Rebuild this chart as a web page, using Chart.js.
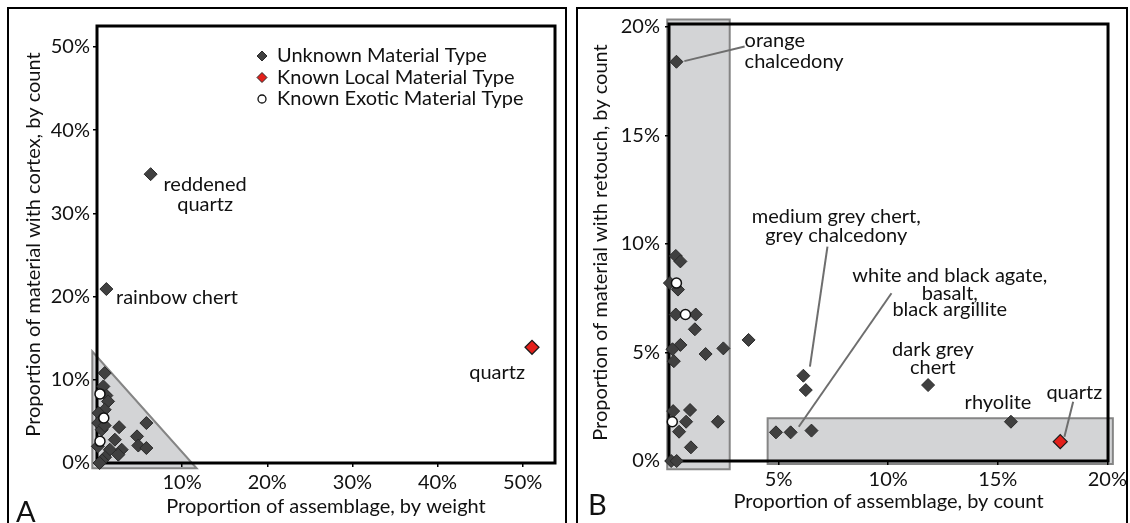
<!DOCTYPE html>
<html>
<head>
<meta charset="utf-8">
<script src="https://cdn.jsdelivr.net/npm/chart.js@4.4.0/dist/chart.umd.min.js"></script>
<style>
  body { margin: 0; background: #fff; width: 1130px; height: 523px; overflow: hidden; position: relative; font-family: Lato, sans-serif; }
  .frame { position: absolute; top: 7px; height: 540px; border: 2px solid #000; border-bottom: none; box-sizing: border-box; }
  #frameA { left: 7px; width: 560px; }
  #frameB { left: 576px; width: 552px; }
  .wrap { position: absolute; top: 0; height: 523px; }
  #wrapA { left: 0; width: 566px; }
  #wrapB { left: 570px; width: 560px; }
  .tag { position: absolute; font-size: 29px; line-height: 29px; color: #111; }
</style>
</head>
<body>
<div class="frame" id="frameA"></div>
<div class="frame" id="frameB"></div>
<div class="wrap" id="wrapA"><canvas id="chartA" width="566" height="523"></canvas></div>
<div class="wrap" id="wrapB"><canvas id="chartB" width="560" height="523"></canvas></div>
<div class="tag" style="left:16px;top:496px">A</div>
<div class="tag" style="left:588px;top:489px">B</div>
<script>
// panel A : weight vs cortex
const unknownA = [
  [6.3, 34.7], [1.1, 20.9],
  [0.9, 10.8], [0.75, 9.2], [1.1, 8.1], [1.3, 7.4], [0.9, 6.4], [0.2, 6.0],
  [0.15, 4.8], [0.55, 4.0], [0.9, 4.5], [2.6, 4.3], [5.8, 4.8], [4.7, 3.2],
  [4.85, 2.1], [5.8, 1.8], [2.1, 2.8], [1.5, 1.6], [2.9, 1.6], [2.5, 1.0],
  [0.95, 0.7], [0.1, 2.0], [0.6, 0.3], [0.3, 0]
];
const localA = [[51.1, 13.9]];
const exoticA = [[0.35, 8.3], [0.8, 5.4], [0.35, 2.6]];
const xTicksA = [10, 20, 30, 40, 50];
const xLabelsA = ['10%', '20%', '30%', '40%', '50%'];
const yTicksA = [0, 10, 20, 30, 40, 50];
const yLabelsA = ['0%', '10%', '20%', '30%', '40%', '50%'];
const notesA = [
  ['reddened', 12.7, 33.4, 'center'], ['quartz', 12.7, 31.1, 'center'],
  ['rainbow chert', 9.4, 19.85, 'center'],
  ['quartz', 47.0, 10.85, 'center']
];
const zoneA = [[[-0.55, 13.4], [11.7, -0.64], [-0.55, -0.64]]];
const legendNames = ['Unknown Material Type', 'Known Local Material Type', 'Known Exotic Material Type'];

// panel B : count vs retouch
const unknownB = [
  [0.34, 18.4],
  [0.31, 9.45], [0.52, 9.2], [0.04, 8.2], [0.41, 7.9],
  [0.31, 6.75], [1.22, 6.75], [1.18, 6.07],
  [0.52, 5.35], [0.16, 5.15], [0.22, 4.6],
  [1.67, 4.93], [2.48, 5.19], [3.63, 5.58],
  [0.19, 2.3], [0.96, 2.35], [0.78, 1.81], [2.23, 1.81], [0.46, 1.35], [1.0, 0.63],
  [0.1, 0], [0.35, 0],
  [6.13, 3.93], [6.24, 3.27],
  [11.82, 3.5],
  [4.88, 1.32], [5.55, 1.32], [6.5, 1.4],
  [15.6, 1.81]
];
const localB = [[17.85, 0.89]];
const exoticB = [[0.34, 8.2], [0.75, 6.75], [0.15, 1.81]];
const xTicksB = [5, 10, 15, 20];
const xLabelsB = ['5%', '10%', '15%', '20%'];
const yTicksB = [0, 5, 10, 15, 20];
const yLabelsB = ['0%', '5%', '10%', '15%', '20%'];
const notesB = [
  ['orange', 3.45, 19.37, 'left'], ['chalcedony', 3.45, 18.4, 'left'],
  ['medium grey chert,', 7.63, 11.26, 'center'], ['grey chalcedony', 7.63, 10.41, 'center'],
  ['white and black agate,', 12.81, 8.57, 'center'], ['basalt,', 12.81, 7.73, 'center'], ['black argillite', 12.81, 6.96, 'center'],
  ['dark grey', 12.04, 5.12, 'center'], ['chert', 12.04, 4.3, 'center'],
  ['rhyolite', 15.01, 2.7, 'center'],
  ['quartz', 18.49, 3.17, 'center']
];
const leadersB = [
  [0.7, 18.43, 3.45, 19.1],
  [7.23, 9.88, 6.43, 4.35],
  [10.15, 7.73, 5.92, 1.58],
  [18.44, 2.73, 18.04, 1.12]
];
const zoneB = [[-0.08, 20.35, 2.77, -0.38], [4.5, 1.97, 20.25, -0.14]];

const FONT = 'Lato';
const TXT = '#111';

function toPts(arr) {
  return arr.map(p => ({x: p[0], y: p[1]}));
}

function diamond(ctx, x, y, r, fill, stroke) {
  ctx.beginPath();
  ctx.moveTo(x, y - r); ctx.lineTo(x + r, y); ctx.lineTo(x, y + r); ctx.lineTo(x - r, y);
  ctx.closePath();
  ctx.fillStyle = fill; ctx.fill();
  ctx.lineWidth = 1; ctx.strokeStyle = stroke; ctx.stroke();
}

function overlay(p) {
  return {
    id: 'overlay',
    beforeDraw(chart) {
      const ctx = chart.ctx, xs = chart.scales.x, ys = chart.scales.y;
      ctx.save();
      p.zones.forEach(poly => {
        ctx.beginPath();
        poly.forEach((pt, i) => {
          const px = xs.getPixelForValue(pt[0]), py = ys.getPixelForValue(pt[1]);
          if (i) ctx.lineTo(px, py); else ctx.moveTo(px, py);
        });
        ctx.closePath();
        ctx.fillStyle = '#d3d4d6';
        ctx.fill();
        ctx.lineWidth = 2;
        ctx.strokeStyle = '#858585';
        ctx.stroke();
      });
      ctx.restore();
    },
    beforeDatasetsDraw(chart) {
      const ctx = chart.ctx, a = chart.chartArea, xs = chart.scales.x, ys = chart.scales.y;
      ctx.save();
      ctx.lineWidth = 3;
      ctx.strokeStyle = '#000';
      ctx.strokeRect(a.left, a.top, a.right - a.left, a.bottom - a.top);
      ctx.lineWidth = 2;
      ctx.strokeStyle = '#6e6e6e';
      (p.leaders || []).forEach(l => {
        ctx.beginPath();
        ctx.moveTo(xs.getPixelForValue(l[0]), ys.getPixelForValue(l[1]));
        ctx.lineTo(xs.getPixelForValue(l[2]), ys.getPixelForValue(l[3]));
        ctx.stroke();
      });
      ctx.restore();
    },
    afterDatasetsDraw(chart) {
      const ctx = chart.ctx, a = chart.chartArea, xs = chart.scales.x, ys = chart.scales.y;
      ctx.save();
      ctx.font = '20px ' + FONT;
      ctx.fillStyle = TXT;
      ctx.textBaseline = 'middle';
      p.notes.forEach(n => {
        ctx.textAlign = n[3];
        ctx.fillText(n[0], xs.getPixelForValue(n[1]), ys.getPixelForValue(n[2]));
      });
      if (p.legend) {
        const lx = a.left + 165, ly = a.top + 30;
        legendNames.forEach((name, i) => {
          const y = ly + i * 21.5;
          if (i === 0) diamond(ctx, lx, y, 5, '#404040', '#2a2a2a');
          else if (i === 1) diamond(ctx, lx, y, 5, '#e3201b', '#2a2a2a');
          else {
            ctx.beginPath();
            ctx.arc(lx, y, 4, 0, Math.PI * 2);
            ctx.fillStyle = '#fff'; ctx.fill();
            ctx.lineWidth = 1.3; ctx.strokeStyle = '#111'; ctx.stroke();
          }
          ctx.fillStyle = TXT;
          ctx.textAlign = 'left';
          ctx.fillText(name, lx + 15, y);
        });
      }
      ctx.restore();
    }
  };
}

function makeChart(id, p) {
  const tickFont = {family: FONT, size: 20};
  return new Chart(document.getElementById(id), {
    type: 'scatter',
    data: {
      datasets: [
        {label: 'exotic', data: toPts(p.exotic), pointStyle: 'circle', pointRadius: 5, backgroundColor: '#fff', borderColor: '#111', borderWidth: 1.5, clip: false},
        {label: 'local', data: toPts(p.local), pointStyle: 'rectRot', pointRadius: 7, backgroundColor: '#e3201b', borderColor: '#1a1a1a', borderWidth: 1.2, clip: false},
        {label: 'unknown', data: toPts(p.unknown), pointStyle: 'rectRot', pointRadius: 6.5, backgroundColor: '#404040', borderColor: '#2a2a2a', borderWidth: 1, clip: false}
      ]
    },
    options: {
      responsive: false,
      animation: false,
      devicePixelRatio: 1,
      layout: {padding: {top: p.top, right: p.right, left: 0, bottom: 0}},
      plugins: {legend: {display: false}, tooltip: {enabled: false}},
      scales: {
        x: {
          type: 'linear', min: 0, max: p.xMax,
          afterBuildTicks: s => { s.ticks = p.xTicks.map(v => ({value: v})); },
          afterFit: s => { s.height = p.xHeight; },
          grid: {drawOnChartArea: false, drawTicks: true, tickLength: 4, color: '#000', lineWidth: 1.5},
          border: {display: false},
          ticks: {padding: p.xPad, color: TXT, font: tickFont, maxRotation: 0, autoSkip: false,
            callback: v => p.xLabels[p.xTicks.indexOf(v)]},
          title: {display: true, text: p.xTitle, color: TXT, font: tickFont, padding: {top: 0, bottom: p.xTitlePad}}
        },
        y: {
          type: 'linear', min: 0, max: p.yMax,
          afterBuildTicks: s => { s.ticks = p.yTicks.map(v => ({value: v})); },
          afterFit: s => { s.width = p.yWidth; },
          grid: {drawOnChartArea: false, drawTicks: true, tickLength: 4, color: '#000', lineWidth: 1.5},
          border: {display: false},
          ticks: {padding: p.yPad, color: TXT, font: tickFont, autoSkip: false,
            callback: v => p.yLabels[p.yTicks.indexOf(v)]},
          title: {display: true, text: p.yTitle, color: TXT, font: tickFont, padding: {top: p.yTitlePad, bottom: 0}}
        }
      }
    },
    plugins: [overlay(p)]
  });
}

makeChart('chartA', {
  unknown: unknownA, local: localA, exotic: exoticA,
  xMax: 53.8, yMax: 52.5,
  xTicks: xTicksA, xLabels: xLabelsA, yTicks: yTicksA, yLabels: yLabelsA,
  xTitle: 'Proportion of assemblage, by weight',
  yTitle: 'Proportion of material with cortex, by count',
  top: 26, right: 11, xHeight: 60, yWidth: 97,
  xPad: 4, yPad: 3, xTitlePad: 4, yTitlePad: 22,
  notes: notesA, zones: zoneA, legend: true
});

makeChart('chartB', {
  unknown: unknownB, local: localB, exotic: exoticB,
  xMax: 20.03, yMax: 20.14,
  xTicks: xTicksB, xLabels: xLabelsB, yTicks: yTicksB, yLabels: yLabelsB,
  xTitle: 'Proportion of assemblage, by count',
  yTitle: 'Proportion of material with retouch, by count',
  top: 24, right: 8, xHeight: 62, yWidth: 99,
  xPad: 3, yPad: 5, xTitlePad: 9, yTitlePad: 19,
  notes: notesB, leaders: leadersB,
  zones: zoneB.map(r => [[r[0], r[1]], [r[2], r[1]], [r[2], r[3]], [r[0], r[3]]])
});
</script>
</body>
</html>
